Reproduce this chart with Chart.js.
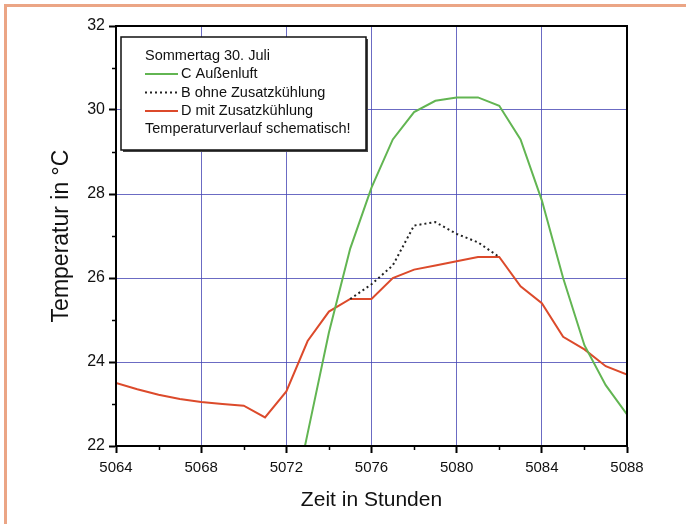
<!DOCTYPE html>
<html>
<head>
<meta charset="utf-8">
<script src="https://cdn.jsdelivr.net/npm/chart.js@4.4.0/dist/chart.umd.min.js"></script>
<style>
  html, body { margin: 0; padding: 0; background: #fff; }
  #wrap { position: relative; width: 686px; height: 524px; overflow: hidden; }
  #tempChart { display: block; }
  #frame {
    position: absolute; left: 4px; top: 4px; right: 0; bottom: 0;
    border-top: 3px solid #eba585; border-left: 3px solid #eba585;
    pointer-events: none;
  }
</style>
</head>
<body>
<div id="wrap">
  <canvas id="tempChart" width="686" height="524"></canvas>
  <div id="frame"></div>
</div>
<script>
// hours of the year (x axis)
const hours = [5064, 5065, 5066, 5067, 5068, 5069, 5070, 5071, 5072, 5073, 5074, 5075, 5076,
               5077, 5078, 5079, 5080, 5081, 5082, 5083, 5084, 5085, 5086, 5087, 5088];

// C Außenluft
const aussenluft = [null, null, null, null, null, null, null, null, 19.9, 22.3, 24.7, 26.7, 28.15,
                    29.3, 29.95, 30.22, 30.3, 30.3, 30.1, 29.3, 27.85, 26.0, 24.4, 23.45, 22.75];

// B ohne Zusatzkühlung
const ohneKuehlung = [null, null, null, null, null, null, null, null, null, null, null, 25.5, 25.85,
                      26.3, 27.25, 27.33, 27.05, 26.85, 26.5, null, null, null, null, null, null];

// D mit Zusatzkühlung
const mitKuehlung = [23.5, 23.35, 23.22, 23.12, 23.05, 23.0, 22.96, 22.68, 23.3, 24.5, 25.2, 25.5, 25.5,
                     26.0, 26.2, 26.3, 26.4, 26.5, 26.5, 25.8, 25.4, 24.6, 24.3, 23.9, 23.7];

// labelled ticks
const xTickLabels = [5064, 5068, 5072, 5076, 5080, 5084, 5088];
const yTickLabels = [22, 24, 26, 28, 30, 32];

const legendTitle = 'Sommertag 30. Juli';
const seriesNames = ['C Außenluft', 'B ohne Zusatzkühlung', 'D mit Zusatzkühlung'];
const legendNote = 'Temperaturverlauf schematisch!';

const FONT = "'Liberation Sans', Arial, sans-serif";
const gridBlue = 'rgba(70, 70, 180, 0.8)';

function toPoints(values) {
    return hours.map((h, i) => ({ x: h, y: values[i] }));
}

// frame, short minor ticks and the boxed legend
const extrasPlugin = {
    id: 'extras',
    afterDraw(chart) {
        const ctx = chart.ctx;
        const a = chart.chartArea;
        const xs = chart.scales.x, ys = chart.scales.y;

        ctx.save();
        // minor ticks
        ctx.strokeStyle = '#000';
        ctx.lineWidth = 1.5;
        xs.ticks.forEach(t => {
            if (xTickLabels.includes(t.value)) return;
            const px = Math.round(xs.getPixelForValue(t.value)) + 0.5;
            ctx.beginPath(); ctx.moveTo(px, a.bottom); ctx.lineTo(px, a.bottom + 4); ctx.stroke();
        });
        ys.ticks.forEach(t => {
            if (yTickLabels.includes(t.value)) return;
            const py = Math.round(ys.getPixelForValue(t.value)) + 0.5;
            ctx.beginPath(); ctx.moveTo(a.left, py); ctx.lineTo(a.left - 4, py); ctx.stroke();
        });

        // plot frame
        ctx.lineWidth = 2;
        ctx.strokeRect(a.left, a.top, a.right - a.left, a.bottom - a.top);

        // legend box
        const bx = a.left + 5, by = a.top + 11, bw = 245, bh = 113;
        ctx.fillStyle = '#444';
        ctx.fillRect(bx + 2, by + 2, bw, bh);
        ctx.fillStyle = '#fff';
        ctx.fillRect(bx, by, bw, bh);
        ctx.strokeStyle = '#111';
        ctx.lineWidth = 1.5;
        ctx.strokeRect(bx, by, bw, bh);

        ctx.font = '14.5px ' + FONT;
        ctx.fillStyle = '#111';
        ctx.textBaseline = 'middle';
        ctx.textAlign = 'left';
        const tx = bx + 24;
        ctx.fillText(legendTitle, tx, by + 19);

        chart.data.datasets.forEach((ds, i) => {
            const ly = by + 37 + i * 18.5;
            ctx.beginPath();
            ctx.strokeStyle = ds.borderColor;
            ctx.lineWidth = 2;
            ctx.setLineDash(ds.borderDash || []);
            ctx.moveTo(tx, ly); ctx.lineTo(tx + 33, ly);
            ctx.stroke();
            ctx.setLineDash([]);
            ctx.fillText(ds.label, tx + 36, ly);
        });
        ctx.fillText(legendNote, tx, by + 92);
        ctx.restore();
    }
};

const ctx = document.getElementById('tempChart').getContext('2d');
const tempChart = new Chart(ctx, {
    type: 'line',
    data: {
        datasets: [
            {
                label: seriesNames[0],
                data: toPoints(aussenluft),
                borderColor: '#62b552',
                borderWidth: 2,
                pointRadius: 0
            },
            {
                label: seriesNames[1],
                data: toPoints(ohneKuehlung),
                borderColor: '#222',
                borderWidth: 2,
                borderDash: [2, 3],
                pointRadius: 0
            },
            {
                label: seriesNames[2],
                data: toPoints(mitKuehlung),
                borderColor: '#dc4a2b',
                borderWidth: 2,
                pointRadius: 0
            }
        ]
    },
    options: {
        responsive: false,
        animation: false,
        spanGaps: false,
        layout: { padding: { left: 0, top: 26, right: 59, bottom: 0 } },
        plugins: {
            legend: { display: false },
            tooltip: { enabled: false }
        },
        scales: {
            x: {
                type: 'linear',
                min: 5064,
                max: 5088,
                afterFit: (scale) => { scale.height = 78; },
                ticks: {
                    stepSize: 2,
                    color: '#111',
                    padding: 6,
                    maxRotation: 0,
                    font: { family: FONT, size: 15 },
                    callback: (v) => xTickLabels.includes(v) ? String(v) : ''
                },
                grid: {
                    color: (c) => c.tick && xTickLabels.includes(c.tick.value) ? gridBlue : 'transparent',
                    tickColor: (c) => c.tick && xTickLabels.includes(c.tick.value) ? '#000' : 'transparent',
                    tickLength: 7,
                    tickWidth: 2,
                    lineWidth: 1
                },
                border: { display: true, color: '#000', width: 2 },
                title: {
                    display: true,
                    text: 'Zeit in Stunden',
                    color: '#111',
                    font: { family: FONT, size: 21 },
                    padding: { top: 0, bottom: 11 }
                }
            },
            y: {
                min: 22,
                max: 32,
                afterFit: (scale) => { scale.width = 116; },
                ticks: {
                    stepSize: 1,
                    color: '#111',
                    padding: 4,
                    font: { family: FONT, size: 16 },
                    callback: (v) => yTickLabels.includes(v) ? String(v) : ''
                },
                grid: {
                    color: (c) => c.tick && yTickLabels.includes(c.tick.value) ? gridBlue : 'transparent',
                    tickColor: (c) => c.tick && yTickLabels.includes(c.tick.value) ? '#000' : 'transparent',
                    tickLength: 7,
                    tickWidth: 2,
                    lineWidth: 1
                },
                border: { display: true, color: '#000', width: 2 },
                title: {
                    display: true,
                    text: 'Temperatur in °C',
                    color: '#111',
                    font: { family: FONT, size: 23 },
                    padding: { top: 48, bottom: 0 }
                }
            }
        }
    },
    plugins: [extrasPlugin]
});
</script>
</body>
</html>
